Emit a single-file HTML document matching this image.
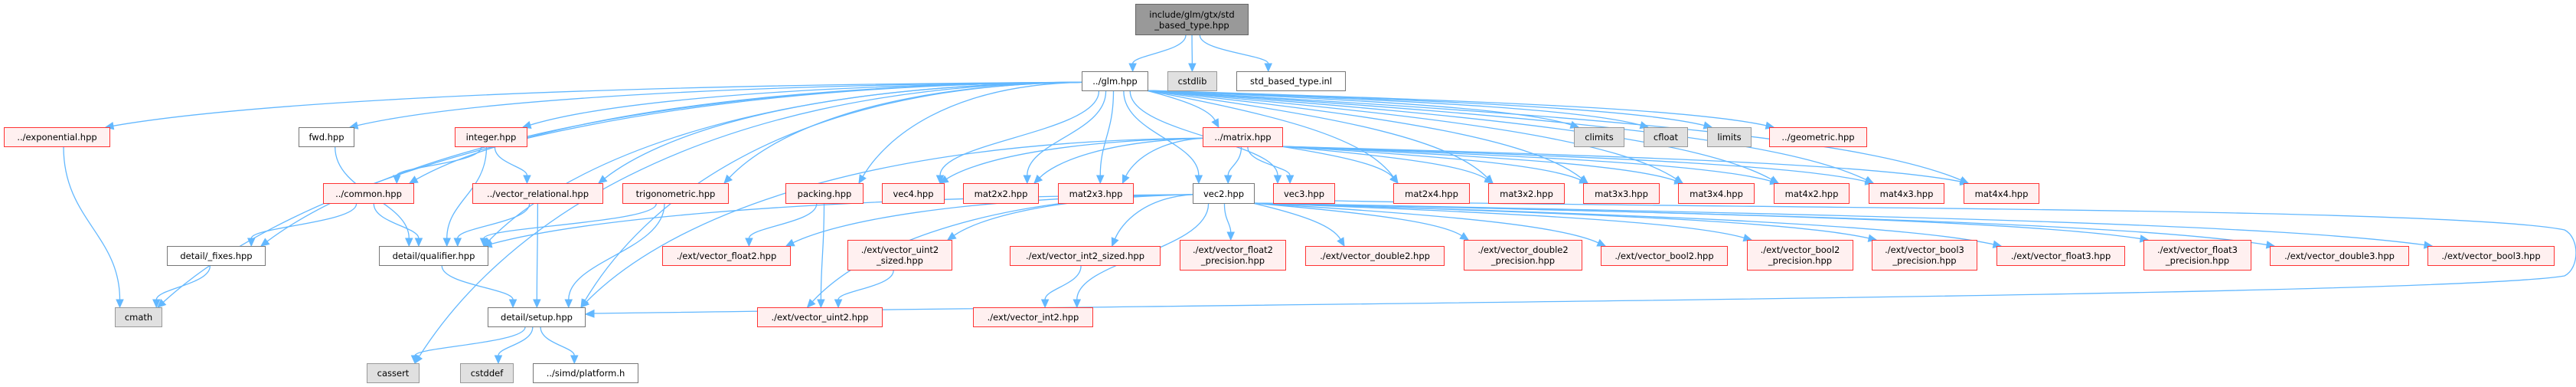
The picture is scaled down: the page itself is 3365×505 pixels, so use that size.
<!DOCTYPE html>
<html><head><meta charset="utf-8">
<style>
html,body{margin:0;padding:0;background:#fff;}
#c{position:relative;width:3365px;height:505px;overflow:hidden;font-family:"DejaVu Sans","Liberation Sans",sans-serif;font-size:11.5px;color:#000;}
.n{position:absolute;box-sizing:border-box;display:flex;align-items:center;justify-content:center;text-align:center;line-height:14px;white-space:nowrap;z-index:2;}
.r{background:#fff0f0;border:1.5px solid #ff3333;}
.w{background:#fff;border:1.5px solid #777;}
.g{background:#e0e0e0;border:1.5px solid #999;}
.t{background:#999;border:1.5px solid #666;}
svg{position:absolute;left:0;top:0;z-index:1;}
</style></head><body>
<div id="c">
<svg id="s" width="3365" height="505"></svg>
<div class="n t" id="top" style="left:1483px;top:5px;width:148px;height:41px">include/glm/gtx/std<br>_based_type.hpp</div>
<div class="n w" id="glm" style="left:1413px;top:93px;width:87px;height:26px">../glm.hpp</div>
<div class="n g" id="cstdlib" style="left:1525px;top:93px;width:65px;height:26px">cstdlib</div>
<div class="n w" id="inl" style="left:1615px;top:93px;width:143px;height:26px">std_based_type.inl</div>

<div class="n r" id="exp" style="left:5px;top:166px;width:139px;height:26px">../exponential.hpp</div>
<div class="n w" id="fwd" style="left:390px;top:166px;width:73px;height:26px">fwd.hpp</div>
<div class="n r" id="integer" style="left:594px;top:166px;width:95px;height:26px">integer.hpp</div>
<div class="n r" id="matrix" style="left:1571px;top:166px;width:105px;height:26px">../matrix.hpp</div>
<div class="n g" id="climits" style="left:2056px;top:166px;width:66px;height:26px">climits</div>
<div class="n g" id="cfloat" style="left:2147px;top:166px;width:58px;height:26px">cfloat</div>
<div class="n g" id="limits" style="left:2230px;top:166px;width:58px;height:26px">limits</div>
<div class="n r" id="geom" style="left:2311px;top:166px;width:128px;height:26px">../geometric.hpp</div>

<div class="n r" id="common" style="left:422px;top:239px;width:119px;height:27px">../common.hpp</div>
<div class="n r" id="vrel" style="left:617px;top:239px;width:171px;height:27px">../vector_relational.hpp</div>
<div class="n r" id="trig" style="left:813px;top:239px;width:139px;height:27px">trigonometric.hpp</div>
<div class="n r" id="packing" style="left:1026px;top:239px;width:102px;height:27px">packing.hpp</div>
<div class="n r" id="vec4" style="left:1152px;top:239px;width:82px;height:27px">vec4.hpp</div>
<div class="n r" id="m22" style="left:1258px;top:239px;width:99px;height:27px">mat2x2.hpp</div>
<div class="n r" id="m23" style="left:1382px;top:239px;width:99px;height:27px">mat2x3.hpp</div>
<div class="n w" id="vec2" style="left:1558px;top:239px;width:81px;height:27px">vec2.hpp</div>
<div class="n r" id="vec3" style="left:1663px;top:239px;width:81px;height:27px">vec3.hpp</div>
<div class="n r" id="m24" style="left:1820px;top:239px;width:100px;height:27px">mat2x4.hpp</div>
<div class="n r" id="m32" style="left:1944px;top:239px;width:100px;height:27px">mat3x2.hpp</div>
<div class="n r" id="m33" style="left:2068px;top:239px;width:100px;height:27px">mat3x3.hpp</div>
<div class="n r" id="m34" style="left:2192px;top:239px;width:100px;height:27px">mat3x4.hpp</div>
<div class="n r" id="m42" style="left:2317px;top:239px;width:99px;height:27px">mat4x2.hpp</div>
<div class="n r" id="m43" style="left:2441px;top:239px;width:99px;height:27px">mat4x3.hpp</div>
<div class="n r" id="m44" style="left:2565px;top:239px;width:99px;height:27px">mat4x4.hpp</div>

<div class="n w" id="fixes" style="left:218px;top:321px;width:129px;height:26px">detail/_fixes.hpp</div>
<div class="n w" id="qual" style="left:495px;top:321px;width:143px;height:26px">detail/qualifier.hpp</div>
<div class="n r" id="vf2" style="left:865px;top:321px;width:168px;height:26px">./ext/vector_float2.hpp</div>
<div class="n r" id="vu2s" style="left:1107px;top:313px;width:137px;height:40px">./ext/vector_uint2<br>_sized.hpp</div>
<div class="n r" id="vi2s" style="left:1319px;top:321px;width:197px;height:26px">./ext/vector_int2_sized.hpp</div>
<div class="n r" id="vf2p" style="left:1541px;top:313px;width:139px;height:40px">./ext/vector_float2<br>_precision.hpp</div>
<div class="n r" id="vd2" style="left:1705px;top:321px;width:182px;height:26px">./ext/vector_double2.hpp</div>
<div class="n r" id="vd2p" style="left:1912px;top:313px;width:155px;height:40px">./ext/vector_double2<br>_precision.hpp</div>
<div class="n r" id="vb2" style="left:2091px;top:321px;width:166px;height:26px">./ext/vector_bool2.hpp</div>
<div class="n r" id="vb2p" style="left:2282px;top:313px;width:139px;height:40px">./ext/vector_bool2<br>_precision.hpp</div>
<div class="n r" id="vb3p" style="left:2445px;top:313px;width:138px;height:40px">./ext/vector_bool3<br>_precision.hpp</div>
<div class="n r" id="vf3" style="left:2608px;top:321px;width:168px;height:26px">./ext/vector_float3.hpp</div>
<div class="n r" id="vf3p" style="left:2800px;top:313px;width:141px;height:40px">./ext/vector_float3<br>_precision.hpp</div>
<div class="n r" id="vd3" style="left:2965px;top:321px;width:182px;height:26px">./ext/vector_double3.hpp</div>
<div class="n r" id="vb3" style="left:3171px;top:321px;width:166px;height:26px">./ext/vector_bool3.hpp</div>

<div class="n g" id="cmath" style="left:150px;top:401px;width:62px;height:26px">cmath</div>
<div class="n w" id="setup" style="left:637px;top:401px;width:128px;height:26px">detail/setup.hpp</div>
<div class="n r" id="vu2" style="left:989px;top:401px;width:164px;height:26px">./ext/vector_uint2.hpp</div>
<div class="n r" id="vi2" style="left:1271px;top:401px;width:157px;height:26px">./ext/vector_int2.hpp</div>

<div class="n g" id="cassert" style="left:479px;top:474px;width:69px;height:26px">cassert</div>
<div class="n g" id="cstddef" style="left:601px;top:474px;width:70px;height:26px">cstddef</div>
<div class="n w" id="plat" style="left:696px;top:474px;width:138px;height:26px">../simd/platform.h</div>
</div>
<script>
(function(){
var E=[["top","glm"],["top","cstdlib"],["top","inl"],
["glm","exp"],["glm","fwd"],["glm","integer"],["glm","common"],["glm","vrel"],["glm","trig"],["glm","packing"],["glm","vec4"],["glm","m22"],["glm","m23"],["glm","matrix"],["glm","vec2"],["glm","vec3"],["glm","m24"],["glm","m32"],["glm","m33"],["glm","m34"],["glm","m42"],["glm","m43"],["glm","m44"],["glm","climits"],["glm","cfloat"],["glm","limits"],["glm","geom"],["glm","cmath"],["glm","fixes"],["glm","cassert"],["glm","qual"],["glm","setup"],
["exp","cmath"],["fwd","qual"],["integer","common"],["integer","qual"],["integer","vrel"],["common","fixes"],["common","qual"],["vrel","qual"],["vrel","setup"],["trig","qual"],["trig","setup"],["packing","vf2"],["packing","vu2"],["fixes","cmath"],["qual","setup"],["setup","cassert"],["setup","cstddef"],["setup","plat"],
["matrix","vec2"],["matrix","vec3"],["matrix","vec4"],["matrix","m22"],["matrix","m23"],["matrix","m24"],["matrix","m32"],["matrix","m33"],["matrix","m34"],["matrix","m42"],["matrix","m43"],["matrix","m44"],["matrix","setup"],
["vec2","qual"],["vec2","vf2"],["vec2","vu2s"],["vec2","vi2s"],["vec2","vi2"],["vec2","vu2"],["vec2","vf2p"],["vec2","vd2"],["vec2","vd2p"],["vec2","vb2"],["vec2","vb2p"],["vec2","vb3p"],["vec2","vf3"],["vec2","vf3p"],["vec2","vd3"],["vec2","vb3"],["vec3","setup"],
["vu2s","vu2"],["vi2s","vi2"]];
function box(id){var e=document.getElementById(id);var x=e.offsetLeft,y=e.offsetTop,w=e.offsetWidth,h=e.offsetHeight;return{x:x,y:y,w:w,h:h,cx:x+w/2,b:y+h};}
var s=document.getElementById("s"),out="";
function cl(v,a,b){return Math.max(a,Math.min(b,v));}
var side={glm:1,matrix:1,vec2:1};
E.forEach(function(p){
 var a=box(p[0]),t=box(p[1]);
 var tx=t.cx, sx, sy, ex, ey, c1x,c1y,c2x,c2y;
 var horiz = side[p[0]] && Math.abs(tx-a.cx) > 2.5*(t.y-a.b) && t.y>a.b;
 if(p[0]=="vec3"&&p[1]=="setup"){
   out+='<path d="M1744,262 C2200,272 3200,270 3350,300 C3370,310 3370,350 3350,360 C3200,385 1800,395 775,409" fill="none" stroke="#63b8ff" stroke-width="1.3"/>';
   out+='<polygon points="765,410 776,404.5 776,414" fill="#63b8ff" stroke="#63b8ff"/>';return;}
 if(horiz){ if(tx<a.cx){sx=a.x; sy=a.y+a.h*0.55;} else {sx=a.x+a.w-3; sy=a.b-1;} }
 else { sx=a.cx+cl((tx-a.cx)*0.08,-a.w/2+5,a.w/2-5); sy=a.b; }
 if(p[0]=="vec2"&&(p[1]=="vu2")){ ex=t.x+t.w*0.4; }
 else ex=t.cx+cl((sx-t.cx)*0.25,-t.w/2+6,t.w/2-6);
 ey=t.y;
 var dy=ey-sy;
 if(horiz){ c1x=sx+(ex-sx)*0.6; c1y=sy+ (tx<a.cx?4:dy*0.3); c2x=ex+(sx-ex)*0.12; c2y=ey-Math.max(dy*0.45,18); }
 else { c1x=sx; c1y=sy+dy*0.45; c2x=ex; c2y=ey-dy*0.45; }
 var dx=ex-c2x, ddy=ey-c2y, L=Math.sqrt(dx*dx+ddy*ddy)||1; dx/=L; ddy/=L;
 var al=10, aw=4.5;
 var bx=ex-dx*al, by=ey-ddy*al;
 out+='<path d="M'+sx+','+sy+' C'+c1x+','+c1y+' '+c2x+','+c2y+' '+bx+','+by+'" fill="none" stroke="#63b8ff" stroke-width="1.3"/>';
 out+='<polygon points="'+ex+','+ey+' '+(bx-ddy*aw)+','+(by+dx*aw)+' '+(bx+ddy*aw)+','+(by-dx*aw)+'" fill="#63b8ff" stroke="#63b8ff"/>';
});
s.innerHTML=out;
})();
</script>
</body></html>
